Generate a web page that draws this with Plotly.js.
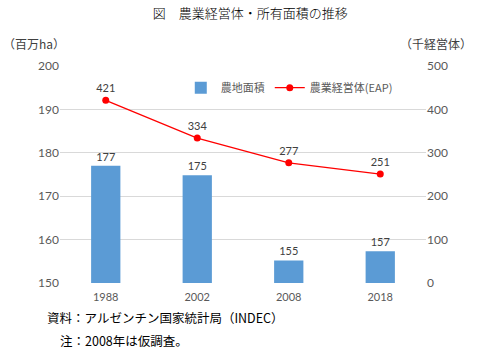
<!DOCTYPE html>
<html><head><meta charset="utf-8">
<script src="https://cdn.plot.ly/plotly-3.0.1.min.js"></script>
<style>html,body{margin:0;padding:0;background:#fff}#c{width:486px;height:355px}</style>
</head><body><div id="c"></div>
<script>
const years = ['1988','2002','2008','2018'];
const landArea = [177, 174.8, 155.2, 157.3];
const landLabels = ['177','175','155','157'];
const farms = [421, 334, 277, 251];
const farmLabels = ['421','334','277','251'];
const leftTicks = [150,160,170,180,190,200];
const rightTicks = [0,100,200,300,400,500];

const F = 'Lato, "Noto Sans CJK JP", sans-serif';
const J = '"Noto Sans CJK JP", sans-serif';

const traces = [
  {type:'bar', x:years, y:landArea, name:'農地面積', marker:{color:'#5B9BD5'},
   width:0.32, text:landLabels, textposition:'outside', cliponaxis:false,
   textfont:{family:F,size:11,color:'#404040'}, hoverinfo:'none'},
  {type:'scatter', mode:'lines+markers+text', x:years, y:farms, yaxis:'y2', name:'農業経営体(EAP)',
   line:{color:'#FF0000',width:1.3}, marker:{color:'#FF0000',size:7},
   text:farmLabels, textposition:'top center', cliponaxis:false,
   textfont:{family:F,size:11,color:'#404040'}, hoverinfo:'none'}
];

const layout = {
  width:486, height:355, margin:{l:60,r:60,t:66,b:72},
  paper_bgcolor:'#fff', plot_bgcolor:'#fff', showlegend:true,
  font:{family:F,size:11,color:'#595959'},
  title:{text:'図　農業経営体・所有面積の推移', font:{family:J,size:13,color:'#000',weight:300}, x:0.515, xanchor:'center', y:0.962, yanchor:'middle'},
  xaxis:{type:'category', range:[-0.5,3.5], showgrid:false, showline:false, ticks:'', ticklabelstandoff:6, tickfont:{family:F,size:11,color:'#595959'}},
  yaxis:{range:[150,200], tickvals:leftTicks, showgrid:true, gridcolor:'#D9D9D9', gridwidth:1, zeroline:false, showline:false, ticks:'', ticklen:0, tickfont:{family:F,size:12,color:'#595959'}},
  yaxis2:{range:[0,500], tickvals:rightTicks, overlaying:'y', side:'right', showgrid:false, zeroline:false, showline:false, tickfont:{family:F,size:12,color:'#595959'}},
  legend:{orientation:'h', x:0.33, xanchor:'left', y:0.9, yanchor:'middle', font:{family:J,size:11,color:'#595959'}, bgcolor:'rgba(0,0,0,0)', itemwidth:30, tracegroupgap:0},
  barmode:'group',
  annotations:[
    {text:'（百万ha）', xref:'paper', yref:'paper', x:-0.16, y:1.105, xanchor:'left', yanchor:'middle', showarrow:false, font:{family:J,size:12,color:'#404040'}},
    {text:'（千経営体）', xref:'paper', yref:'paper', x:1.13, y:1.105, xanchor:'right', yanchor:'middle', showarrow:false, font:{family:J,size:12,color:'#404040'}},
    {text:'資料：アルゼンチン国家統計局（INDEC）', xref:'paper', yref:'paper', x:-0.04, y:-0.16, xanchor:'left', yanchor:'middle', showarrow:false, font:{family:J,size:12.5,color:'#000'}},
    {text:'注：2008年は仮調査。', xref:'paper', yref:'paper', x:-0.005, y:-0.265, xanchor:'left', yanchor:'middle', showarrow:false, font:{family:J,size:12.5,color:'#000'}}
  ]
};
Plotly.newPlot('c', traces, layout, {displayModeBar:false, staticPlot:true});
</script></body></html>
